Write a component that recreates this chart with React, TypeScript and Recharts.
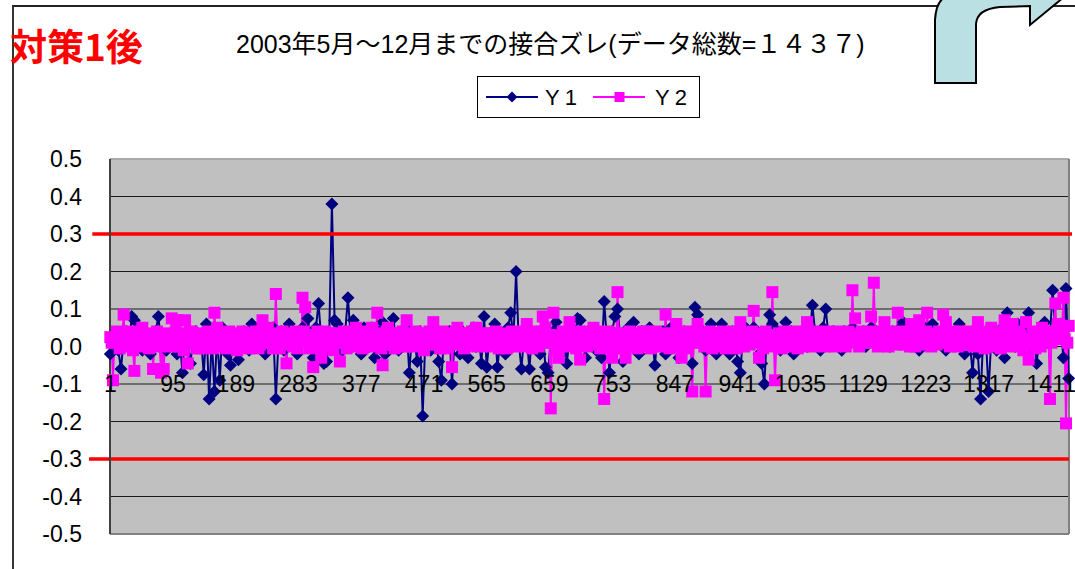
import React from 'react';
import { LineChart, Line, XAxis, YAxis, CartesianGrid, ReferenceLine, ReferenceDot, Legend } from 'recharts';

// 1437 records; Y1 read every 4th record, Y2 every 2nd
const totalCount = 1437;
const y1Step = 4;
const y2Step = 2;

const y1Values = [
  -0.02, 0.01, 0.03, -0.01, -0.06, 0.02, 0.04, 0.00, 0.08, 0.07, 0.02, 0.05, -0.01, 0.03, 0.01, -0.02, 0.02, 0.04, 0.08, 0.01,
  0.02, -0.01, 0.03, 0.01, 0.04, -0.02, 0.02, -0.07, 0.03, 0.01, -0.045, 0.02, 0.04, 0.00, 0.02, -0.075, 0.06, -0.14, 0.02, -0.12,
  0.03, -0.09, 0.05, 0.01, -0.02, -0.05, 0.02, 0.03, -0.035, 0.01, 0.04, 0.02, -0.01, 0.06, 0.02, 0.00, 0.03, 0.01, -0.02, 0.03,
  0.01, 0.05, -0.14, 0.02, 0.04, -0.01, 0.02, 0.06, 0.01, 0.03, -0.02, 0.02, 0.05, 0.01, 0.075, 0.02, -0.03, 0.05, 0.115, 0.02,
  -0.045, -0.04, 0.03, 0.38, 0.07, 0.06, 0.02, -0.01, 0.04, 0.13, 0.03, 0.07, 0.01, 0.04, -0.02, 0.05, 0.02, 0.00, 0.05, -0.03,
  0.02, 0.04, 0.065, -0.02, 0.03, 0.01, 0.075, 0.02, -0.01, 0.04, 0.02, 0.05, -0.07, 0.03, 0.01, -0.04, 0.04, -0.185, 0.02, 0.03,
  -0.01, 0.05, 0.02, -0.04, -0.09, 0.03, 0.01, 0.04, -0.10, 0.02, 0.03, -0.02, 0.04, 0.01, -0.03, 0.02, 0.05, 0.00, 0.03, -0.045,
  0.08, -0.055, 0.02, 0.04, 0.06, -0.055, 0.01, 0.03, -0.02, 0.05, 0.09, 0.02, 0.20, 0.01, -0.06, 0.03, 0.02, -0.06, 0.04, 0.01,
  0.03, -0.02, 0.04, -0.055, -0.07, 0.02, 0.04, 0.065, 0.01, -0.02, 0.03, -0.045, 0.02, 0.05, 0.01, 0.075, 0.07, 0.02, -0.03, 0.03,
  0.02, 0.04, -0.01, 0.03, -0.03, 0.12, 0.02, -0.07, 0.04, 0.08, 0.10, 0.03, -0.04, 0.02, 0.05, 0.01, 0.065, 0.02, -0.02, 0.04,
  0.01, 0.03, 0.05, 0.02, -0.05, 0.03, 0.01, 0.04, -0.02, 0.02, 0.05, 0.01, 0.03, -0.03, 0.02, 0.04, 0.01, 0.03, -0.045, 0.105,
  0.085, 0.02, 0.04, -0.01, 0.03, 0.06, 0.02, -0.02, 0.04, 0.06, 0.01, 0.03, -0.02, 0.04, 0.02, -0.04, -0.07, 0.03, 0.05, 0.01,
  0.03, 0.05, 0.02, -0.02, -0.045, -0.10, 0.04, 0.085, 0.06, 0.02, 0.04, -0.01, 0.03, 0.065, 0.02, 0.04, -0.02, 0.03, 0.01, 0.04,
  0.02, 0.00, 0.03, 0.11, 0.04, 0.02, -0.01, 0.05, 0.10, 0.03, 0.02, 0.04, 0.01, 0.03, -0.01, 0.04, 0.02, 0.03, 0.05, 0.01,
  0.03, 0.02, 0.04, 0.00, 0.03, 0.05, 0.02, 0.04, 0.01, 0.03, 0.05, 0.02, 0.00, 0.04, 0.02, 0.03, 0.05, 0.065, 0.02, 0.01,
  0.03, 0.04, 0.02, -0.01, 0.03, 0.05, 0.02, 0.04, 0.06, 0.02, 0.01, 0.04, 0.03, -0.01, 0.02, 0.04, 0.01, 0.03, 0.06, 0.02,
  -0.02, 0.03, 0.01, -0.07, 0.02, -0.02, -0.14, 0.03, 0.02, -0.12, 0.02, 0.04, -0.01, 0.03, 0.05, -0.03, 0.09, 0.02, 0.04, 0.00,
  0.06, 0.02, 0.04, -0.01, 0.09, 0.02, 0.03, -0.045, 0.02, 0.04, 0.065, 0.01, 0.03, 0.15, 0.04, 0.02, 0.06, -0.03, 0.155, -0.085,
];

const y2Values = [
  0.025, 0.01, -0.09, 0.02, 0.015, 0.04, 0.03, -0.005, 0.005, 0.035, 0.085, 0.01, 0.02, 0.04, 0.0, 0.03, 0.025, -0.01, -0.065, 0.03,
  0.015, 0.04, 0.005, 0.02, 0.05, 0.005, 0.0, 0.035, 0.025, -0.005, 0.01, 0.03, -0.06, 0.005, 0.02, 0.04, 0.03, 0.0, -0.07, 0.02,
  -0.06, 0.01, 0.015, 0.035, 0.025, 0.0, 0.075, 0.02, 0.01, 0.04, 0.07, 0.005, 0.0, 0.035, 0.025, -0.01, 0.07, 0.02, -0.045, 0.01,
  0.015, 0.04, 0.005, 0.025, 0.03, -0.005, 0.01, 0.035, -0.005, 0.03, 0.02, 0.0, 0.03, 0.04, 0.005, 0.025, 0.015, -0.005, 0.09, 0.03,
  0.05, 0.02, 0.01, 0.035, 0.0, 0.03, 0.025, -0.005, 0.01, 0.04, 0.03, 0.005, 0.005, 0.035, 0.02, -0.01, 0.025, 0.03, 0.0, 0.04,
  0.03, 0.01, 0.015, 0.035, -0.005, 0.02, 0.025, 0.0, 0.01, 0.04, 0.03, -0.005, 0.005, 0.03, 0.07, 0.02, 0.015, 0.035, 0.05, 0.01,
  0.01, 0.035, -0.005, 0.02, 0.14, 0.03, 0.02, -0.005, 0.025, 0.04, 0.005, 0.02, -0.045, 0.01, 0.015, 0.035, 0.03, 0.0, 0.01, 0.04,
  -0.005, 0.03, 0.025, 0.01, 0.13, 0.04, 0.105, 0.02, 0.015, -0.005, 0.005, 0.03, -0.055, 0.01, 0.025, 0.04, 0.01, 0.0, -0.03, 0.02,
  0.015, 0.04, 0.03, 0.0, 0.005, 0.035, 0.02, -0.01, 0.035, 0.015, 0.01, 0.03, -0.04, 0.01, 0.025, 0.04, 0.015, -0.005, 0.0, 0.03,
  0.03, 0.005, 0.01, 0.04, 0.05, 0.02, 0.0, 0.035, 0.025, -0.005, 0.015, 0.03, 0.005, 0.04, 0.03, 0.0, 0.05, 0.025, 0.01, 0.035,
  0.09, 0.02, 0.015, -0.005, -0.05, 0.01, 0.025, 0.04, 0.05, 0.01, 0.005, 0.035, 0.02, -0.005, 0.03, 0.01, 0.0, 0.035, 0.015, 0.04,
  0.025, 0.0, 0.07, 0.03, 0.01, 0.035, 0.0, 0.02, 0.025, 0.04, 0.035, 0.005, 0.005, 0.03, 0.02, -0.01, 0.03, 0.015, 0.01, 0.04,
  0.015, 0.03, 0.065, 0.02, 0.005, 0.035, 0.025, -0.005, 0.01, 0.04, -0.005, 0.02, 0.025, 0.0, 0.015, 0.035, -0.055, 0.01, 0.02, 0.04,
  0.05, 0.005, 0.01, 0.03, 0.025, -0.005, 0.0, 0.035, 0.035, 0.01, 0.015, 0.04, 0.005, 0.025, 0.05, 0.0, 0.02, 0.035, 0.025, 0.005,
  0.01, 0.035, 0.0, 0.02, 0.025, 0.005, 0.035, 0.015, 0.015, 0.04, 0.005, -0.005, 0.03, 0.02, 0.01, 0.035, 0.02, -0.005, 0.0, 0.03,
  0.025, 0.04, 0.015, 0.0, 0.03, 0.01, 0.005, 0.035, 0.02, 0.04, 0.025, 0.0, 0.06, 0.02, 0.01, 0.035, -0.005, 0.02, 0.025, 0.04,
  0.015, 0.0, 0.03, 0.04, 0.08, 0.02, 0.05, 0.01, 0.01, 0.03, -0.165, 0.02, 0.09, 0.03, 0.02, -0.005, -0.03, 0.01, 0.025, 0.04,
  0.01, 0.035, 0.03, 0.0, 0.065, 0.02, 0.005, 0.035, 0.02, -0.005, 0.025, 0.04, -0.035, 0.01, 0.015, 0.035, 0.03, 0.0, 0.01, 0.04,
  0.02, 0.035, 0.05, 0.01, 0.005, 0.04, 0.025, -0.005, 0.0, 0.03, -0.14, 0.015, 0.02, 0.04, 0.03, 0.0, -0.03, 0.02, 0.035, 0.01,
  0.145, 0.03, 0.025, -0.005, 0.005, 0.035, -0.03, 0.015, 0.02, 0.04, 0.03, 0.0, 0.01, 0.035, 0.025, -0.005, 0.0, 0.03, 0.02, 0.04,
  0.035, 0.005, 0.01, 0.04, 0.025, -0.005, 0.0, 0.03, 0.02, 0.04, 0.03, 0.0, 0.005, 0.035, 0.025, 0.01, 0.085, 0.03, 0.015, -0.005,
  0.01, 0.035, 0.03, 0.005, 0.06, 0.025, 0.02, 0.0, -0.03, 0.02, 0.025, 0.04, 0.01, -0.005, 0.035, 0.02, -0.12, 0.01, 0.02, 0.04,
  0.06, 0.02, 0.01, 0.035, 0.025, 0.0, -0.12, 0.01, 0.02, 0.04, 0.03, -0.005, 0.005, 0.035, 0.025, 0.0, 0.035, 0.015, 0.01, 0.04,
  0.02, -0.005, 0.0, 0.03, 0.03, 0.01, 0.015, 0.04, 0.025, -0.005, 0.005, 0.035, 0.065, 0.02, 0.02, 0.0, 0.01, 0.035, 0.03, 0.005,
  0.02, 0.04, 0.095, 0.02, 0.01, 0.035, -0.03, 0.01, 0.02, -0.005, 0.03, 0.04, 0.005, 0.03, 0.025, 0.0, 0.145, 0.02, -0.09, 0.01,
  0.02, 0.035, 0.03, -0.005, 0.01, 0.04, 0.025, 0.0, 0.005, 0.035, 0.035, 0.01, 0.015, 0.04, 0.025, -0.005, 0.01, 0.035, 0.03, 0.0,
  0.02, 0.04, 0.065, 0.015, 0.01, 0.035, 0.025, 0.0, 0.015, 0.04, 0.03, 0.005, 0.005, 0.035, 0.025, 0.0, 0.02, 0.04, 0.035, 0.005,
  0.01, 0.035, 0.025, 0.0, 0.015, 0.04, 0.03, 0.005, 0.005, 0.035, 0.025, 0.0, 0.02, 0.04, 0.035, 0.01, 0.15, 0.03, 0.075, 0.02,
  0.025, 0.0, 0.015, 0.04, 0.035, 0.01, 0.01, 0.035, 0.025, 0.04, 0.08, 0.02, 0.17, 0.03, 0.02, 0.0, 0.03, 0.04, 0.01, 0.035,
  0.065, 0.02, 0.02, 0.0, 0.025, 0.04, 0.01, 0.035, 0.035, 0.005, 0.09, 0.03, 0.02, 0.04, 0.03, 0.005, 0.01, 0.035, 0.025, 0.0,
  0.06, 0.03, 0.02, 0.0, 0.01, 0.04, 0.07, 0.02, 0.025, 0.005, 0.015, 0.04, 0.09, 0.03, 0.025, 0.0, 0.01, 0.035, 0.03, 0.005,
  0.02, 0.04, 0.035, 0.01, 0.085, 0.03, 0.065, 0.02, 0.02, 0.0, 0.025, 0.04, 0.01, 0.035, 0.03, 0.0, 0.015, 0.04, 0.005, 0.025,
  0.035, 0.005, 0.015, 0.04, 0.005, 0.03, 0.025, 0.0, 0.015, 0.04, 0.065, 0.02, 0.01, 0.035, 0.03, -0.005, 0.0, 0.03, 0.02, 0.04,
  0.05, 0.01, 0.025, 0.0, 0.005, 0.035, 0.02, -0.005, 0.03, 0.04, 0.07, 0.02, 0.015, 0.035, 0.0, 0.03, 0.06, 0.01, 0.025, 0.04,
  0.01, 0.035, 0.03, 0.0, -0.01, 0.02, 0.065, 0.01, -0.035, 0.005, 0.02, 0.04, 0.025, -0.005, 0.005, 0.035, 0.02, 0.0, 0.05, 0.03,
  0.01, 0.035, 0.025, 0.02, -0.14, 0.01, 0.02, 0.04, 0.115, 0.03, 0.06, 0.02, 0.02, 0.035, 0.13, 0.02, -0.205, 0.01, 0.055,
];

const xTickLabels = [1, 95, 189, 283, 377, 471, 565, 659, 753, 847, 941, 1035, 1129, 1223, 1317, 1411];
const yTicks = [0.5, 0.4, 0.3, 0.2, 0.1, 0, -0.1, -0.2, -0.3, -0.4, -0.5];
const limitValue = 0.3;

const y1Data = y1Values.map((v, k) => ({ i: 1 + k * y1Step, y1: v }));
const y2Data = y2Values.map((v, k) => ({ i: 1 + k * y2Step, y2: v }));

const NAVY = '#000080';
const MAGENTA = '#FF00FF';
const FONT = '"Liberation Sans", Arial, "Noto Sans CJK JP", sans-serif';

const DiamondDot = (props: any) => {
  const { cx, cy, index } = props;
  if (cx == null || cy == null) return <g key={`y1-${index}`} />;
  const r = 6.5;
  return (
    <polygon
      key={`y1-${index}`}
      points={`${cx},${cy - r} ${cx + r},${cy} ${cx},${cy + r} ${cx - r},${cy}`}
      fill={NAVY}
    />
  );
};

const SquareDot = (props: any) => {
  const { cx, cy, index } = props;
  if (cx == null || cy == null) return <g key={`y2-${index}`} />;
  return <rect key={`y2-${index}`} x={cx - 6} y={cy - 6} width={12} height={12} fill={MAGENTA} />;
};

const LegendBox = () => (
  <div style={{ width: 223, height: 42, border: '1px solid #000', background: '#fff', boxSizing: 'border-box' }}>
    <svg width={221} height={40} style={{ display: 'block' }}>
      <line x1={8} y1={20} x2={60} y2={20} stroke={NAVY} strokeWidth={2} />
      <polygon points="34,14.5 39.5,20 34,25.5 28.5,20" fill={NAVY} />
      <text x={67} y={28} fontSize={22} fontFamily={FONT} letterSpacing={5} fill="#000">Y1</text>
      <line x1={115} y1={20} x2={167} y2={20} stroke={MAGENTA} strokeWidth={2} />
      <rect x={136.5} y={15} width={10} height={10} fill={MAGENTA} />
      <text x={177} y={28} fontSize={22} fontFamily={FONT} letterSpacing={5} fill="#000">Y2</text>
    </svg>
  </div>
);

export default function App() {
  return (
    <div style={{ position: 'absolute', left: 0, top: 0, width: 1075, height: 569, background: '#fff', overflow: 'hidden', fontFamily: FONT }}>
      <div style={{ position: 'absolute', left: 12, top: 5, width: 1080, height: 580, borderTop: '2px solid #222', borderLeft: '2px solid #333' }} />
      <LineChart width={1075} height={569} margin={{ top: 159, right: 6, bottom: 35, left: 10 }}>
        <CartesianGrid vertical={false} fill="#C0C0C0" fillOpacity={1} stroke="#1a1a1a" />
        <XAxis dataKey="i" type="number" domain={[0.5, totalCount + 0.5]} hide allowDuplicatedCategory={false} />
        <YAxis
          width={100}
          domain={[-0.5, 0.5]}
          ticks={yTicks}
          tickFormatter={(v: number) => v.toFixed(1)}
          tick={{ fontSize: 23, fill: '#000', fontFamily: FONT }}
          tickLine={false}
          tickMargin={22}
          axisLine={{ stroke: '#404040', strokeWidth: 2 }}
        />
        <ReferenceLine y={0.5} stroke="#A8A8A8" strokeWidth={2} />
        <ReferenceLine y={-0.5} stroke="#808080" strokeWidth={2} />
        <ReferenceLine x={totalCount + 0.5} stroke="#808080" strokeWidth={2} />
        <ReferenceLine y={0} stroke="#000" strokeWidth={1} />
        <Line data={y1Data} type="linear" dataKey="y1" name="Y1" stroke={NAVY} strokeWidth={2} dot={DiamondDot} activeDot={false} isAnimationActive={false} />
        <Line data={y2Data} type="linear" dataKey="y2" name="Y2" stroke={MAGENTA} strokeWidth={2} dot={SquareDot} activeDot={false} isAnimationActive={false} />
        <ReferenceLine
          segment={[{ x: -26, y: limitValue }, { x: 1442, y: limitValue }]}
          ifOverflow="visible"
          stroke="#FF0000"
          strokeWidth={3.5}
        />
        <ReferenceLine
          segment={[{ x: -31, y: -limitValue }, { x: totalCount + 0.5, y: -limitValue }]}
          ifOverflow="visible"
          stroke="#FF0000"
          strokeWidth={3.5}
        />
        {xTickLabels.map((t) => (
          <ReferenceDot
            key={t}
            x={t}
            y={0}
            r={0}
            fill="none"
            stroke="none"
            ifOverflow="visible"
            label={{ value: String(t), position: 'bottom', offset: 29, fill: '#000', fontSize: 23, fontFamily: FONT }}
          />
        ))}
        <Legend
          layout="horizontal"
          verticalAlign="middle"
          align="center"
          wrapperStyle={{ left: 477, top: 76, width: 223, height: 42 }}
          content={() => <LegendBox />}
        />
      </LineChart>
      <div style={{ position: 'absolute', left: 10, top: 25, fontSize: 37, fontWeight: 700, color: '#FF0000', fontFamily: '"Noto Sans CJK JP", sans-serif', lineHeight: '40px', whiteSpace: 'nowrap' }}>
        対策1後
      </div>
      <div style={{ position: 'absolute', left: 236, top: 30, fontSize: 25, color: '#000', lineHeight: '28px', whiteSpace: 'nowrap' }}>
        2003年5月～12月までの接合ズレ(データ総数=１４３７)
      </div>
      <svg width={1075} height={100} style={{ position: 'absolute', left: 0, top: 0 }}>
        <path
          d="M935,83 L935,20 Q936,2 945,-3 L1064,-3 L1030,25 L1030,6 L1000,7 Q977,9 976,24 L976,83 Z"
          fill="#BBE0E3"
          stroke="#000"
          strokeWidth={2}
        />
      </svg>
    </div>
  );
}
